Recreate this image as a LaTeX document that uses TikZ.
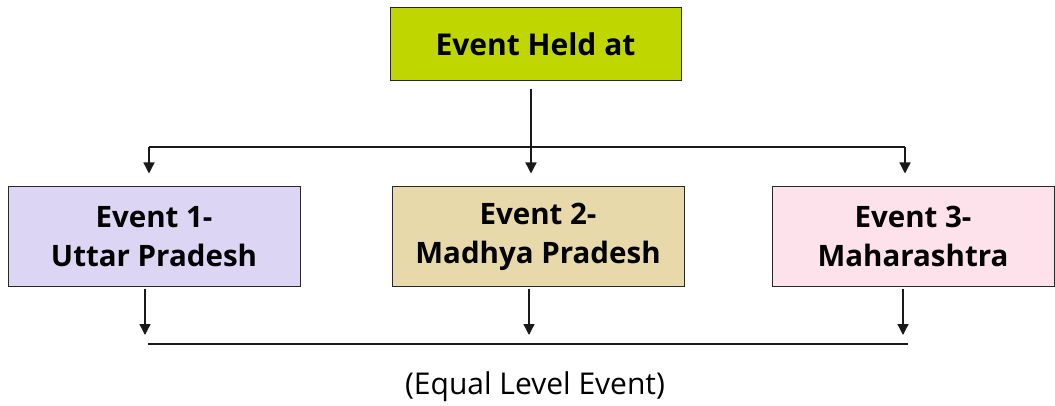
\documentclass[tikz,border=0pt]{standalone}
\usepackage{fontspec}
\setmainfont{Open Sans}
\usetikzlibrary{arrows.meta}
\definecolor{limebox}{RGB}{191,214,0}
\definecolor{lavbox}{RGB}{220,214,244}
\definecolor{tanbox}{RGB}{232,217,170}
\definecolor{pinkbox}{RGB}{253,226,236}
\definecolor{edge}{RGB}{40,40,40}
\begin{document}
\begin{tikzpicture}[x=1pt,y=-1pt,
  box/.style={draw=edge,line width=1pt,minimum height=99pt,inner sep=0pt,
    align=center,font=\fontsize{29.5}{39}\selectfont\bfseries},
  link/.style={line width=1.3pt,draw=black!90},
  arr/.style={link,-{Triangle[width=11pt,length=11pt]}}]
\useasboundingbox (0,0) rectangle (1055,406);
\node[draw=edge,line width=1pt,fill=limebox,minimum width=291pt,minimum height=73pt,
  inner sep=0pt,font=\fontsize{30}{36}\selectfont\bfseries] (top) at (535.5,44) {Event Held at};
\node[box,fill=lavbox,minimum width=292pt] (b1) at (154,236.5) {Event 1-\\Uttar Pradesh};
\node[box,fill=tanbox,minimum width=292pt] (b2) at (538,236.5) {Event 2-\\Madhya Pradesh};
\node[box,fill=pinkbox,minimum width=282pt] (b3) at (913,236.5) {Event 3-\\Maharashtra};
\node[font=\fontsize{30}{36}\selectfont] (lbl) at (535,387) {(Equal Level Event)};
% distribution bar below the heading
\coordinate (hub) at (531,147);
\coordinate (hl) at (149,147);
\coordinate (hr) at (905,147);
\draw[link,shorten <=8pt] (top.south -| hub) -- (hub);
\draw[link] (hl) -- (hr);
\draw[arr,shorten >=13pt] (hl) -- (b1.north -| hl);
\draw[arr,shorten >=13pt] (hub) -- (b2.north -| hub);
\draw[arr,shorten >=13pt] (hr) -- (b3.north -| hr);
% collecting bar below the events
\coordinate (cl) at (148,344);
\coordinate (cr) at (908,344);
\coordinate (c1) at (145,344);
\coordinate (c2) at (529,344);
\coordinate (c3) at (903,344);
\draw[link] (cl) -- (cr);
\draw[arr,shorten <=2pt,shorten >=9pt] (b1.south -| c1) -- (c1);
\draw[arr,shorten <=2pt,shorten >=9pt] (b2.south -| c2) -- (c2);
\draw[arr,shorten <=2pt,shorten >=9pt] (b3.south -| c3) -- (c3);
\end{tikzpicture}
\end{document}
